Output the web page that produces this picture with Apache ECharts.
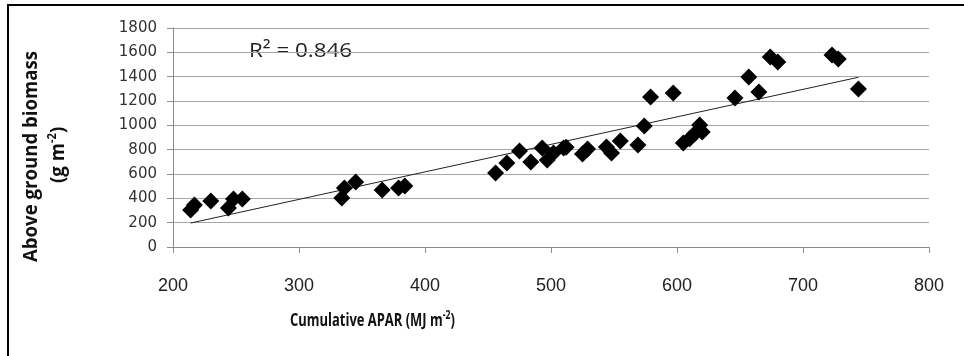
<!DOCTYPE html>
<html>
<head>
<meta charset="utf-8">
<script src="https://cdn.jsdelivr.net/npm/echarts@6/dist/echarts.min.js"></script>
<style>
  html, body { margin: 0; padding: 0; background: #fff; }
  #chart { width: 964px; height: 356px; }
</style>
</head>
<body>
<div id="chart"></div>
<script>
// cumulative APAR (MJ m-2) and above ground biomass (g m-2)
var apar = [214, 217, 230, 244, 248, 255, 334, 336, 345, 366, 379, 384,
            456, 465, 475, 484, 493, 497, 502, 510, 512, 525, 529, 544, 548, 555,
            569, 574, 579, 597, 605, 610, 614, 620, 618, 646, 657, 665, 674, 680,
            723, 728, 744];
var biomass = [304, 345, 378, 320, 394, 394, 403, 485, 534, 468, 485, 501,
               608, 690, 789, 698, 813, 715, 772, 813, 820, 764, 805, 822, 772, 871,
               838, 994, 1232, 1265, 854, 890, 930, 945, 1002, 1224, 1397, 1274, 1561, 1520,
               1578, 1545, 1298];
// linear trend line end points
var trendX = [214, 744];
var trendY = [197, 1395];
var r2 = '0.846';

var points = [];
for (var i = 0; i < apar.length; i++) {
    points.push([apar[i], biomass[i]]);
}
var trend = [[trendX[0], trendY[0]], [trendX[1], trendY[1]]];

var chart = echarts.init(document.getElementById('chart'));

var option = {
    animation: false,
    backgroundColor: '#fff',
    grid: {
        left: 173,
        right: 35,
        top: 28,
        bottom: 109
    },
    xAxis: {
        type: 'value',
        min: 200,
        max: 800,
        interval: 100,
        axisLine: { show: true, lineStyle: { color: '#8c8c8c', width: 1 } },
        axisTick: { show: true, length: 6, lineStyle: { color: '#8c8c8c' } },
        splitLine: { show: false },
        axisLabel: {
            margin: 30,
            color: '#222',
            fontSize: 18,
            fontFamily: '"Liberation Sans", sans-serif'
        }
    },
    yAxis: {
        type: 'value',
        min: 0,
        max: 1800,
        interval: 200,
        axisLine: { show: true, lineStyle: { color: '#8c8c8c', width: 1 } },
        axisTick: { show: true, length: 6, lineStyle: { color: '#8c8c8c' } },
        splitLine: { show: true, lineStyle: { color: '#a6a6a6', width: 1 } },
        axisLabel: {
            margin: 16,
            color: '#333',
            fontSize: 15,
            fontFamily: '"DejaVu Sans", sans-serif',
            formatter: function (v) { return String(v); }
        }
    },
    series: [
        {
            name: 'trend',
            type: 'line',
            data: trend,
            symbol: 'none',
            lineStyle: { color: '#222', width: 1 },
            z: 3
        },
        {
            name: 'biomass',
            type: 'scatter',
            data: points,
            symbol: 'diamond',
            symbolSize: 17,
            itemStyle: { color: '#000', opacity: 1 },
            z: 4
        }
    ],
    graphic: [
        {
            type: 'polyline',
            shape: { points: [[8, 356], [8, 5], [964, 5]] },
            style: { stroke: '#000', lineWidth: 2, fill: null }
        },
        {
            type: 'text',
            x: 249,
            y: 41,
            scaleX: 1.12,
            style: {
                text: 'R² = ' + r2,
                fill: '#222',
                font: '20px "Open Sans", sans-serif'
            }
        },
        {
            type: 'text',
            x: 290,
            y: 310,
            scaleX: 0.72,
            style: {
                text: '{b|Cumulative APAR (MJ m}{s|-2}{b|)}',
                rich: {
                    b: { fontSize: 18, fontWeight: 'bold', fill: '#111', fontFamily: '"Open Sans", sans-serif' },
                    s: { fontSize: 12, fontWeight: 'bold', fill: '#111', fontFamily: '"Open Sans", sans-serif', verticalAlign: 'top', lineHeight: 22 }
                }
            }
        },
        {
            type: 'text',
            x: 21,
            y: 262,
            rotation: Math.PI / 2,
            scaleX: 0.93,
            style: {
                text: 'Above ground biomass',
                fill: '#111',
                font: 'bold 20px "Open Sans", sans-serif'
            }
        },
        {
            type: 'text',
            x: 47,
            y: 183,
            rotation: Math.PI / 2,
            scaleX: 0.93,
            style: {
                text: '{b|(g m}{s|-2}{b|)}',
                rich: {
                    b: { fontSize: 20, fontWeight: 'bold', fill: '#111', fontFamily: '"Open Sans", sans-serif' },
                    s: { fontSize: 12, fontWeight: 'bold', fill: '#111', fontFamily: '"Open Sans", sans-serif', verticalAlign: 'top', lineHeight: 22 }
                }
            }
        }
    ]
};

chart.setOption(option);
</script>
</body>
</html>
